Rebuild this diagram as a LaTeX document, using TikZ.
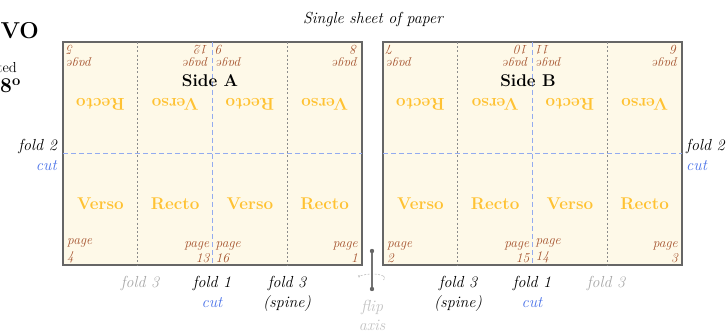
\documentclass[tikz,border=0pt]{standalone}
\usepackage{tikz}
\usetikzlibrary{positioning, calc, arrows.meta}

\definecolor{paper}{HTML}{FEF9E8}
\definecolor{pagebrown}{HTML}{A5532E}
\definecolor{sidegold}{HTML}{FFC232}
\definecolor{cutblue}{HTML}{4A72E8}
\definecolor{foldblue}{HTML}{93ABF0}
\definecolor{foldgray}{HTML}{A8A8A8}
\definecolor{flipgray}{HTML}{C2C2C2}

\tikzset{
  sheet/.style={fill=paper, draw=black!60, line width=1.3pt},
  foldthree/.style={draw=black!45, dash pattern=on 2pt off 2.2pt, line width=0.6pt},
  foldcut/.style={draw=foldblue, dash pattern=on 5pt off 3pt, line width=0.8pt},
  word/.style={text=sidegold, font=\fontsize{17}{20}\selectfont\bfseries, inner sep=0pt},
  sidelbl/.style={font=\fontsize{17}{20}\selectfont\bfseries, inner sep=0pt},
  pagelbl/.style={text=pagebrown, font=\fontsize{13.5}{15.5}\selectfont\itshape, inner sep=0pt},
  foldlbl/.style={font=\fontsize{16}{20}\selectfont\itshape, inner sep=0pt, align=center}
}

\begin{document}
\begin{tikzpicture}[x=1pt, y=-1pt]
  \useasboundingbox (0,0) rectangle (726,334);

  % Title and cut-off heading on the left
  \node[font=\fontsize{16}{19}\selectfont\itshape, anchor=base] (title) at (373,24) {Single sheet of paper};
  \node[font=\fontsize{23}{26}\selectfont\bfseries, anchor=base east, inner sep=0pt] (head) at (39,39) {VO};
  \node[font=\fontsize{14.5}{17}\selectfont, anchor=base east, inner sep=0pt] (headsub) at (17,73) {ted};
  \node[font=\fontsize{21}{24}\selectfont\bfseries, anchor=base east, inner sep=0pt] (headnum) at (21,93) {8\textsuperscript{o}};

  % Both sides of the sheet
  \foreach \s/\xl/\ta/\tb/\tc/\td/\ba/\bb/\bc/\bd in
      {A/63/5/12/9/8/4/13/16/1, B/383/7/10/11/6/2/15/14/3} {
    \draw[sheet] (\xl,42) rectangle ++(299,223);
    % fold 3 (dotted) and fold 1 / fold 2 (cut, dashed)
    \draw[foldthree] (\xl+74.75,42) -- (\xl+74.75,265);
    \draw[foldthree] (\xl+224.25,42) -- (\xl+224.25,265);
    \draw[foldcut] (\xl+149.5,42) -- (\xl+149.5,265);
    \draw[foldcut] (\xl,153) -- (\xl+299,153);
    % Recto / Verso in each panel
    \foreach \w [count=\i] in {Recto,Verso,Recto,Verso}
      \node[word, rotate=180] (top\s\i) at (\xl+\i*74.75-37.4,104) {\w};
    \foreach \w [count=\i] in {Verso,Recto,Verso,Recto}
      \node[word] (bot\s\i) at (\xl+\i*74.75-37.4,204) {\w};
    % Page numbers, upper row upside down
    \node[pagelbl, rotate=180, anchor=south east, align=right] (pt\s1) at (\xl+4,45) {page\\\ta};
    \node[pagelbl, rotate=180, anchor=south west, align=left] (pt\s2) at (\xl+145.5,45) {page\\\tb};
    \node[pagelbl, rotate=180, anchor=south east, align=right] (pt\s3) at (\xl+153.5,45) {page\\\tc};
    \node[pagelbl, rotate=180, anchor=south west, align=left] (pt\s4) at (\xl+295,45) {page\\\td};
    \node[pagelbl, anchor=south west, align=left] (pb\s1) at (\xl+4,263) {page\\\ba};
    \node[pagelbl, anchor=south east, align=right] (pb\s2) at (\xl+146.5,263) {page\\\bb};
    \node[pagelbl, anchor=south west, align=left] (pb\s3) at (\xl+152.5,263) {page\\\bc};
    \node[pagelbl, anchor=south east, align=right] (pb\s4) at (\xl+295,263) {page\\\bd};
  }

  % Side labels
  \node[sidelbl] (sideA) at (210,81) {Side A};
  \node[sidelbl] (sideB) at (528,81) {Side B};

  % Fold labels
  \node[foldlbl, anchor=north east, align=right] (fold2l) at (57,139) {fold 2\\\textcolor{cutblue}{cut}};
  \node[foldlbl, anchor=north west, align=left] (fold2r) at (686,139) {fold 2\\\textcolor{cutblue}{cut}};
  \node[foldlbl, text=foldgray, anchor=north] (fold3a) at (140,276) {fold 3};
  \node[foldlbl, anchor=north] (fold1a) at (212,276) {fold 1\\\textcolor{cutblue}{cut}};
  \node[foldlbl, anchor=north] (spinea) at (287,276) {fold 3\\(spine)};
  \node[foldlbl, anchor=north] (spineb) at (458,276) {fold 3\\(spine)};
  \node[foldlbl, anchor=north] (fold1b) at (532,276) {fold 1\\\textcolor{cutblue}{cut}};
  \node[foldlbl, text=foldgray, anchor=north] (fold3b) at (606,276) {fold 3};

  % Flip axis
  \coordinate (axtop) at (372,251);
  \coordinate (axbot) at (372,289);
  \draw[flipgray, dash pattern=on 2pt off 1.5pt, line width=0.6pt, -{Stealth[length=3pt]}]
    ($(372,278)+(11.3,-2)$) arc[start angle=-30, end angle=-180, x radius=13, y radius=4];
  \draw[black!55, line width=1.4pt] (axtop) -- (axbot);
  \fill[black!60] (axtop) circle (2.2pt) (axbot) circle (2.2pt);
  \draw[flipgray, dash pattern=on 2pt off 1.5pt, line width=0.6pt]
    ($(372,278)+(11.3,-2)$) arc[start angle=-30, end angle=30, x radius=13, y radius=4];
  \node[foldlbl, text=flipgray, anchor=north, font=\fontsize{16}{19}\selectfont\itshape] (flip) at (372,300) {flip\\axis};
\end{tikzpicture}
\end{document}
